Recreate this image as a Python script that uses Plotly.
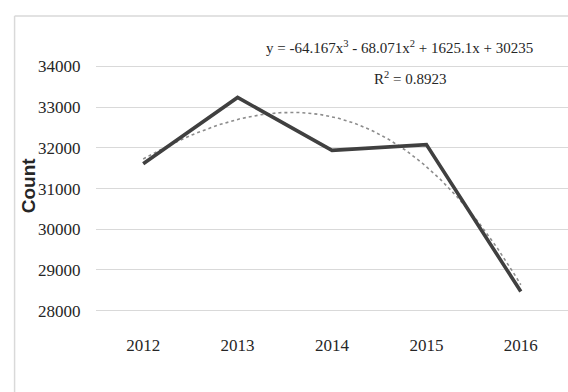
import numpy as np
import plotly.graph_objects as go

years = ["2012", "2013", "2014", "2015", "2016"]
counts = [31610, 33240, 31940, 32080, 28470]
# Polynomial trendline coefficients shown on the chart (x = 1..n)
trend_coefs = [-64.167, -68.071, 1625.1, 30235]
y_ticks = [28000, 29000, 30000, 31000, 32000, 33000, 34000]

idx = list(range(len(years)))
t = np.linspace(1, len(years), 200)
trend_y = np.polyval(trend_coefs, t)
trend_x = t - 1

fig = go.Figure()
fig.add_trace(go.Scatter(
    x=trend_x, y=trend_y, mode="lines",
    line=dict(color="#8c8c8c", width=1.6, dash="dot"),
    hoverinfo="skip", showlegend=False))
fig.add_trace(go.Scatter(
    x=idx, y=counts, mode="lines",
    line=dict(color="#404040", width=3.6),
    showlegend=False))

serif = "Liberation Serif"
txt = "#262626"

fig.update_layout(
    width=568, height=392,
    margin=dict(l=95.5, r=0, t=64, b=79),
    paper_bgcolor="white", plot_bgcolor="white",
    font=dict(family=serif, size=17, color=txt),
    xaxis=dict(
        range=[-0.5, 4.5], tickmode="array", tickvals=idx, ticktext=years,
        showgrid=False, zeroline=False, showline=False,
        ticks="outside", ticklen=17, tickcolor="rgba(0,0,0,0)",
        tickfont=dict(family=serif, size=17, color=txt)),
    yaxis=dict(
        range=[27943, 34061], tickmode="array", tickvals=y_ticks,
        ticktext=[str(v) for v in y_ticks],
        showgrid=True, gridcolor="#d9d9d9", gridwidth=1.3,
        zeroline=False, showline=False,
        ticks="outside", ticklen=11, tickcolor="rgba(0,0,0,0)",
        tickfont=dict(family=serif, size=17, color=txt)),
    shapes=[
        dict(type="line", xref="paper", yref="paper",
             x0=-0.1725, x1=1.2, y0=1.193, y1=1.193,
             line=dict(color="#d9d9d9", width=1.5)),
        dict(type="line", xref="paper", yref="paper",
             x0=-0.1725, x1=-0.1725, y0=1.193, y1=-0.5,
             line=dict(color="#d9d9d9", width=1.5)),
    ],
    annotations=[
        dict(text="y = -64.167x<sup>3</sup> - 68.071x<sup>2</sup> + 1625.1x + 30235",
             xref="paper", yref="paper", x=0.644, y=1.068,
             xanchor="center", yanchor="middle", showarrow=False,
             font=dict(family=serif, size=15, color=txt)),
        dict(text="R<sup>2</sup> = 0.8923",
             xref="paper", yref="paper", x=0.666, y=0.944,
             xanchor="center", yanchor="middle", showarrow=False,
             font=dict(family=serif, size=15, color=txt)),
        dict(text="<b>Count</b>", textangle=-90,
             xref="paper", yref="paper", x=-0.1435, y=0.514,
             xanchor="center", yanchor="middle", showarrow=False,
             font=dict(family="Liberation Sans", size=19, color=txt)),
    ],
)

fig.write_html("out.html")
